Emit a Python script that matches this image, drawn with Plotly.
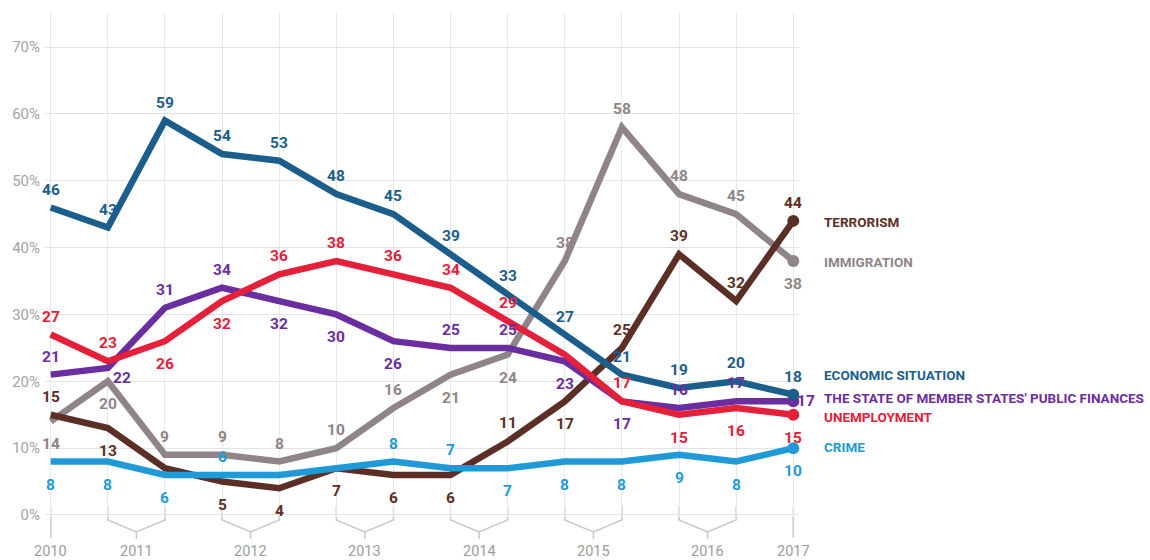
import plotly.graph_objects as go

# Survey waves: spring 2010 ... spring 2017 (two waves per year in between)
waves = list(range(14))
years = ["2010", "2011", "2012", "2013", "2014", "2015", "2016", "2017"]
year_waves = [[0], [1, 2], [3, 4], [5, 6], [7, 8], [9, 10], [11, 12], [13]]

# Share of respondents naming each issue (%)
economic = [46, 43, 59, 54, 53, 48, 45, 39, 33, 27, 21, 19, 20, 18]
unemployment = [27, 23, 26, 32, 36, 38, 36, 34, 29, 24, 17, 15, 16, 15]
public_finances = [21, 22, 31, 34, 32, 30, 26, 25, 25, 23, 17, 16, 17, 17]
immigration = [14, 20, 9, 9, 8, 10, 16, 21, 24, 38, 58, 48, 45, 38]
terrorism = [15, 13, 7, 5, 4, 7, 6, 6, 11, 17, 25, 39, 32, 44]
crime = [8, 8, 6, 6, 6, 7, 8, 7, 7, 8, 8, 9, 8, 10]

y_ticks = [0, 10, 20, 30, 40, 50, 60, 70]
y_tick_text = [f"{t}%" for t in y_ticks]

# Value-label placement per wave: u = above, d = below, r = right, e = below-right, - = none
series = [
    dict(name="IMMIGRATION", values=immigration, color="#8f8589",
         place="dduuuuudduuuud", label_y=37.8),
    dict(name="TERRORISM", values=terrorism, color="#5b2f26",
         place="ud-dddddudu" + "uuu", label_y=43.8),
    dict(name="CRIME", values=crime, color="#1f9ad6",
         place="dddu--uudddddd", label_y=10.2),
    dict(name="THE STATE OF MEMBER STATES' PUBLIC FINANCES", values=public_finances,
         color="#6a2ea0", place="ueuudddu" + "udduur", label_y=17.5),
    dict(name="UNEMPLOYMENT", values=unemployment, color="#e4203a",
         place="uudduuuuu-uddd", label_y=14.7),
    dict(name="ECONOMIC SITUATION", values=economic, color="#1b5e8b",
         place="uuuuuuuuuuuuuu", label_y=20.9),
]

FONT = "Roboto, sans-serif"
SHIFTS = {"u": (0, 18), "d": (0, -23), "r": (13, 0), "e": (14, -10)}

fig = go.Figure()
annotations = []

for s in series:
    vals = s["values"]
    fig.add_trace(go.Scatter(
        x=waves, y=vals, mode="lines", name=s["name"],
        line=dict(color=s["color"], width=6.5), showlegend=False, hoverinfo="skip",
    ))
    fig.add_trace(go.Scatter(
        x=[waves[-1]], y=[vals[-1]], mode="markers",
        marker=dict(color=s["color"], size=12), showlegend=False,
        hoverinfo="skip", cliponaxis=False,
    ))
    for i, (v, p) in enumerate(zip(vals, s["place"])):
        if p == "-":
            continue
        dx, dy = SHIFTS[p]
        annotations.append(dict(
            x=waves[i], y=v, xref="x", yref="y", text=str(v), showarrow=False,
            xshift=dx, yshift=dy,
            font=dict(family=FONT, size=15.5, color=s["color"], weight="bold"),
        ))
    annotations.append(dict(
        x=1.031, y=s["label_y"], xref="paper", yref="y", text=s["name"],
        showarrow=False, xanchor="left", yanchor="middle",
        font=dict(family=FONT, size=13.5, color=s["color"], weight="bold"),
    ))

# Year labels and brackets grouping the survey waves of each year
plot_bottom_px, plot_h = 517.1, 504.1


def py(px):
    return (plot_bottom_px - px) / plot_h


shapes = []
for yr, idx in zip(years, year_waves):
    mid = sum(idx) / len(idx)
    if len(idx) == 1:
        path = f"M {idx[0]},{py(508)} L {idx[0]},{py(538)}"
    else:
        a, b = idx
        path = (f"M {a},{py(506)} L {a},{py(520)} L {mid},{py(532)} L {b},{py(520)} "
                f"L {b},{py(506)} M {mid},{py(532)} L {mid},{py(539)}")
    shapes.append(dict(type="path", path=path, xref="x", yref="paper",
                       line=dict(color="#c9c9c9", width=1.5), layer="below"))
    annotations.append(dict(
        x=mid, y=py(552), xref="x", yref="paper", text=yr, showarrow=False,
        yanchor="middle", font=dict(family=FONT, size=14.5, color="#9c9c9c"),
    ))

fig.update_layout(
    width=1150, height=560,
    margin=dict(l=45.3, r=351.3, t=13, b=42.9),
    paper_bgcolor="white", plot_bgcolor="white",
    xaxis=dict(range=[-0.1, 13.1], tickvals=waves, showticklabels=False,
               showgrid=True, gridcolor="#e8e8e8", gridwidth=1, zeroline=False,
               showline=False, ticks=""),
    yaxis=dict(range=[-0.3, 75.1], tickvals=y_ticks, ticktext=y_tick_text,
               showgrid=True, gridcolor="#e3e3e3", gridwidth=1, zeroline=False,
               showline=False, ticks="", ticklabelstandoff=4,
               tickfont=dict(family=FONT, size=15, color="#a3a3a3")),
    annotations=annotations,
    shapes=shapes,
)

fig.write_html("out.html", include_plotlyjs=True, config={"displayModeBar": False})
